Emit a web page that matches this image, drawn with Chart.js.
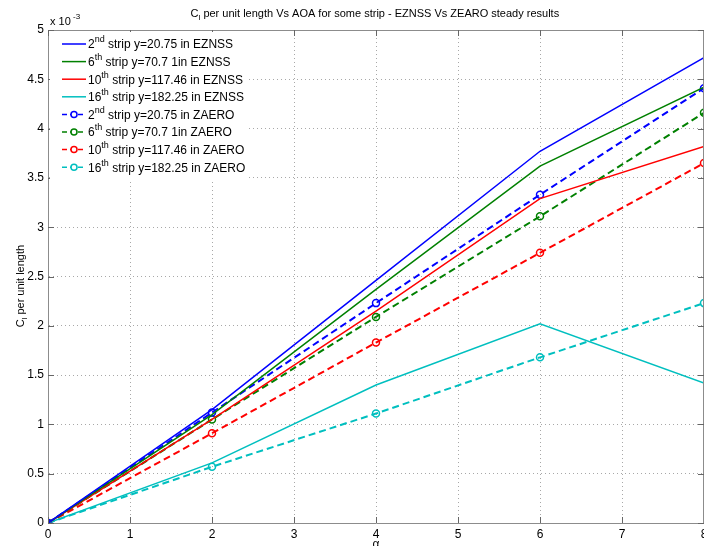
<!DOCTYPE html>
<html>
<head>
<meta charset="utf-8">
<script src="https://cdn.jsdelivr.net/npm/chart.js@4"></script>
<style>
  html, body { margin: 0; padding: 0; overflow: hidden; background: #fff; }
  #wrap { width: 720px; height: 546px; }
</style>
</head>
<body>
<div id="wrap"><canvas id="chart"></canvas></div>
<script>
// angle of attack (deg) and Cl per unit length, in units of 1e-3
const alpha = [0, 2, 4, 6, 8];
const eznss2 = [0, 1.15, 2.46, 3.77, 4.72];
const eznss6 = [0, 1.10, 2.37, 3.62, 4.42];
const eznss10 = [0, 1.05, 2.15, 3.29, 3.82];
const eznss16 = [0, 0.61, 1.40, 2.02, 1.42];
const zaero2 = [0, 1.12, 2.23, 3.33, 4.41];
const zaero6 = [0, 1.05, 2.09, 3.11, 4.16];
const zaero10 = [0, 0.91, 1.83, 2.74, 3.65];
const zaero16 = [0, 0.57, 1.11, 1.68, 2.23];

const labels = [
  '2nd strip y=20.75 in EZNSS',
  '6th strip y=70.7 1in EZNSS',
  '10th strip y=117.46 in EZNSS',
  '16th strip y=182.25 in EZNSS',
  '2nd strip y=20.75 in ZAERO',
  '6th strip y=70.7 1in ZAERO',
  '10th strip y=117.46 in ZAERO',
  '16th strip y=182.25 in ZAERO'
];
const xTicks = [0, 1, 2, 3, 4, 5, 6, 7, 8];
const yTicks = [0, 0.5, 1, 1.5, 2, 2.5, 3, 3.5, 4, 4.5, 5];

const colors = ['#0000ff', '#008000', '#ff0000', '#00bfbf'];
const FONT = '"Liberation Sans", Arial, sans-serif';

const pts = arr => arr.map((v, i) => ({x: alpha[i], y: v}));

function solid(data, i) {
  return {
    label: labels[i], data: pts(data), borderColor: colors[i % 4],
    borderWidth: 1.5, pointRadius: 0, tension: 0, fill: false
  };
}
function dashed(data, i) {
  return {
    label: labels[i], data: pts(data), borderColor: colors[i % 4],
    borderWidth: 2, borderDash: [7, 4], pointRadius: 3.5, pointStyle: 'circle',
    pointBorderWidth: 1.5, pointBorderColor: colors[i % 4], pointBackgroundColor: 'rgba(0,0,0,0)',
    tension: 0, fill: false
  };
}

function drawSup(ctx, x, y, base, sup, rest, size) {
  ctx.font = size + 'px ' + FONT;
  ctx.fillText(base, x, y);
  x += ctx.measureText(base).width;
  ctx.font = Math.round(size * 0.72) + 'px ' + FONT;
  ctx.fillText(sup, x, y - 5);
  x += ctx.measureText(sup).width;
  ctx.font = size + 'px ' + FONT;
  ctx.fillText(rest, x, y);
}

const extras = {
  id: 'extras',
  afterDatasetsDraw(chart) {
    const {ctx, chartArea: a, scales: {x, y}} = chart;
    ctx.save();
    // box: top and right edges
    ctx.strokeStyle = '#8c8c8c';
    ctx.lineWidth = 1;
    ctx.beginPath();
    ctx.moveTo(a.left, a.top + 0.5); ctx.lineTo(a.right, a.top + 0.5);
    ctx.moveTo(a.right - 0.5, a.top); ctx.lineTo(a.right - 0.5, a.bottom);
    ctx.stroke();
    // inward ticks
    ctx.strokeStyle = '#666';
    ctx.beginPath();
    yTicks.forEach(v => {
      const py = Math.round(y.getPixelForValue(v)) + 0.5;
      ctx.moveTo(a.left, py); ctx.lineTo(a.left + 6, py);
      ctx.moveTo(a.right, py); ctx.lineTo(a.right - 6, py);
    });
    xTicks.forEach(v => {
      const px = Math.round(x.getPixelForValue(v)) + 0.5;
      ctx.moveTo(px, a.bottom); ctx.lineTo(px, a.bottom - 6);
      ctx.moveTo(px, a.top); ctx.lineTo(px, a.top + 6);
    });
    ctx.stroke();

    // legend
    ctx.fillStyle = '#fff';
    ctx.fillRect(a.left + 2, a.top + 2, 196, 148);
    ctx.textBaseline = 'middle';
    ctx.textAlign = 'left';
    chart.data.datasets.forEach((ds, i) => {
      const ly = 44 + i * 17.6;
      ctx.strokeStyle = ds.borderColor;
      ctx.lineWidth = 1.5;
      ctx.setLineDash(ds.borderDash ? [5, 3] : []);
      ctx.beginPath();
      ctx.moveTo(62, ly); ctx.lineTo(86, ly);
      ctx.stroke();
      ctx.setLineDash([]);
      if (ds.pointRadius) {
        ctx.beginPath();
        ctx.arc(74, ly, 3, 0, Math.PI * 2);
        ctx.fillStyle = '#fff';
        ctx.fill();
        ctx.stroke();
      }
      const m = ds.label.match(/^(\d+)(st|nd|rd|th)(.*)$/);
      ctx.fillStyle = '#000';
      drawSup(ctx, 88, ly + 1, m[1], m[2], m[3], 12);
    });

    // title
    ctx.fillStyle = '#000';
    ctx.textBaseline = 'alphabetic';
    ctx.font = '11px ' + FONT;
    const t1 = 'C', t2 = 'l', t3 = ' per unit length Vs AOA for some strip - EZNSS Vs ZEARO steady results';
    const w = ctx.measureText(t1 + t3).width + 4;
    let tx = (a.left + a.right) / 2 - w / 2;
    ctx.fillText(t1, tx, 17); tx += ctx.measureText(t1).width;
    ctx.font = '8px ' + FONT;
    ctx.fillText(t2, tx, 20); tx += ctx.measureText(t2).width;
    ctx.font = '11px ' + FONT;
    ctx.fillText(t3, tx, 17);

    // exponent
    ctx.font = '11px ' + FONT;
    ctx.fillText('x 10', 50, 25);
    ctx.font = '8px ' + FONT;
    ctx.fillText('-3', 73, 19);

    // x title
    ctx.font = '12px ' + FONT;
    ctx.textAlign = 'center';
    ctx.fillText('\u03b1', (a.left + a.right) / 2, 548);

    // y title
    ctx.translate(24, 285);
    ctx.rotate(-Math.PI / 2);
    ctx.textAlign = 'left';
    ctx.font = '11px ' + FONT;
    const s1 = 'C', s3 = ' per unit length';
    let sx = -(ctx.measureText(s1 + s3).width + 4) / 2;
    ctx.fillText(s1, sx, 0); sx += ctx.measureText(s1).width;
    ctx.font = '8px ' + FONT;
    ctx.fillText('l', sx, 3); sx += ctx.measureText('l').width;
    ctx.font = '11px ' + FONT;
    ctx.fillText(s3, sx, 0);
    ctx.restore();
  }
};

new Chart(document.getElementById('chart'), {
  type: 'line',
  data: {
    datasets: [
      solid(eznss2, 0), solid(eznss6, 1), solid(eznss10, 2), solid(eznss16, 3),
      dashed(zaero2, 4), dashed(zaero6, 5), dashed(zaero10, 6), dashed(zaero16, 7)
    ]
  },
  options: {
    responsive: true,
    maintainAspectRatio: false,
    animation: false,
    layout: { padding: { top: 30, right: 16, left: 0, bottom: 0 } },
    plugins: { legend: { display: false }, title: { display: false }, tooltip: { enabled: false } },
    scales: {
      x: {
        type: 'linear', min: 0, max: 8,
        afterFit: s => { s.height = 23; },
        afterBuildTicks: s => { s.ticks = xTicks.map(v => ({value: v})); },
        ticks: { color: '#000', padding: 4, font: { family: FONT, size: 12 }, callback: v => String(v) },
        grid: { color: '#a8a8a8', drawTicks: false, lineWidth: 1 },
        border: { color: '#8c8c8c', width: 1, dash: [1, 3] }
      },
      y: {
        type: 'linear', min: 0, max: 5,
        afterFit: s => { s.width = 48; },
        afterBuildTicks: s => { s.ticks = yTicks.map(v => ({value: v})); },
        ticks: { color: '#000', padding: 4, font: { family: FONT, size: 12 }, callback: v => String(v) },
        grid: { color: '#a8a8a8', drawTicks: false, lineWidth: 1 },
        border: { color: '#8c8c8c', width: 1, dash: [1, 3] }
      }
    }
  },
  plugins: [extras]
});
</script>
</body>
</html>
